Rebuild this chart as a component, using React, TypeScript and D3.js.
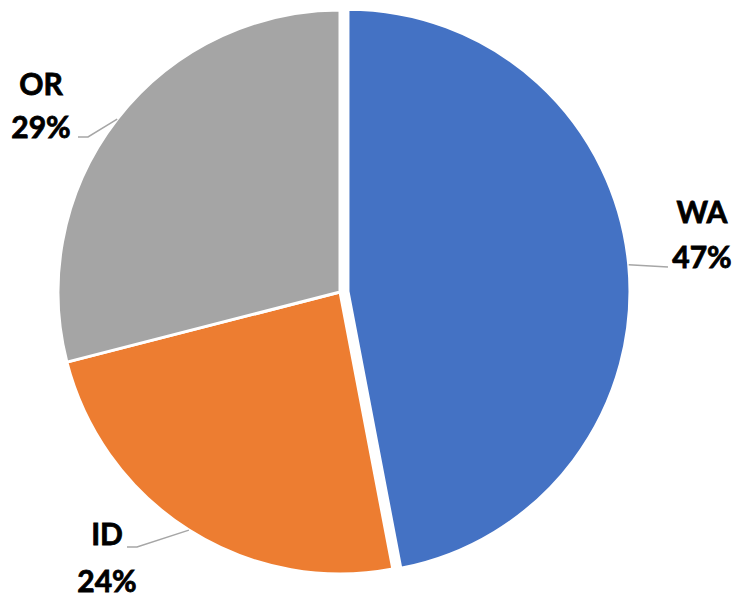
import React from "react";
import * as d3 from "d3";

const categories = ["WA", "ID", "OR"];
const values = [47, 24, 29];
const percentLabels = ["47%", "24%", "29%"];
const colors = ["#4472C4", "#ED7D31", "#A5A5A5"];

// label layout (elbow point, end of leader, text center, baselines)
const labelLayout = [
  { elbow: [668, 267], end: [668, 267], tx: 702, b1: 223, b2: 268 },
  { elbow: [137, 547], end: [127, 547], tx: 107, b1: 545, b2: 592 },
  { elbow: [88, 137], end: [78, 137], tx: 41, b1: 95, b2: 138 },
];

const W = 736, H = 597;
const cx = 340, cy = 292, R = 282;
const explode = [8, 0, 0];

export default function App() {
  const pie = d3.pie<number>().sort(null).value((d) => d);
  const arcs = pie(values);
  const arc = d3.arc<d3.PieArcDatum<number>>().innerRadius(0).outerRadius(R);
  const textStyle = {
    fontFamily: "Lato, 'Open Sans', sans-serif",
    fontWeight: "bold" as const,
    fontSize: 30,
  };
  return (
    <svg width={W} height={H} style={{ position: "absolute", left: 0, top: 0 }}>
      <rect width={W} height={H} fill="#fff" />
      <g transform={`translate(${cx},${cy})`}>
        {arcs.map((a, i) => {
          const mid = (a.startAngle + a.endAngle) / 2;
          const dx = Math.sin(mid) * explode[i];
          const dy = -Math.cos(mid) * explode[i];
          return (
            <path
              key={categories[i]}
              d={arc(a) || ""}
              transform={`translate(${dx},${dy})`}
              fill={colors[i]}
              stroke="#fff"
              strokeWidth={3}
              strokeLinejoin="round"
            />
          );
        })}
      </g>
      {arcs.map((a, i) => {
        const mid = (a.startAngle + a.endAngle) / 2;
        const px = cx + Math.sin(mid) * (R + explode[i]);
        const py = cy - Math.cos(mid) * (R + explode[i]);
        const L = labelLayout[i];
        return (
          <g key={"l" + i}>
            <polyline
              points={`${px},${py} ${L.elbow[0]},${L.elbow[1]} ${L.end[0]},${L.end[1]}`}
              fill="none"
              stroke="#A6A6A6"
              strokeWidth={1.5}
            />
            <text
              x={L.tx}
              y={L.b1}
              textAnchor="middle"
              style={textStyle}
              fill="#000"
              stroke="#000"
              strokeWidth={0.8}
            >
              {categories[i]}
            </text>
            <text
              x={L.tx}
              y={L.b2}
              textAnchor="middle"
              style={textStyle}
              fill="#000"
              stroke="#000"
              strokeWidth={0.8}
            >
              {percentLabels[i]}
            </text>
          </g>
        );
      })}
    </svg>
  );
}
